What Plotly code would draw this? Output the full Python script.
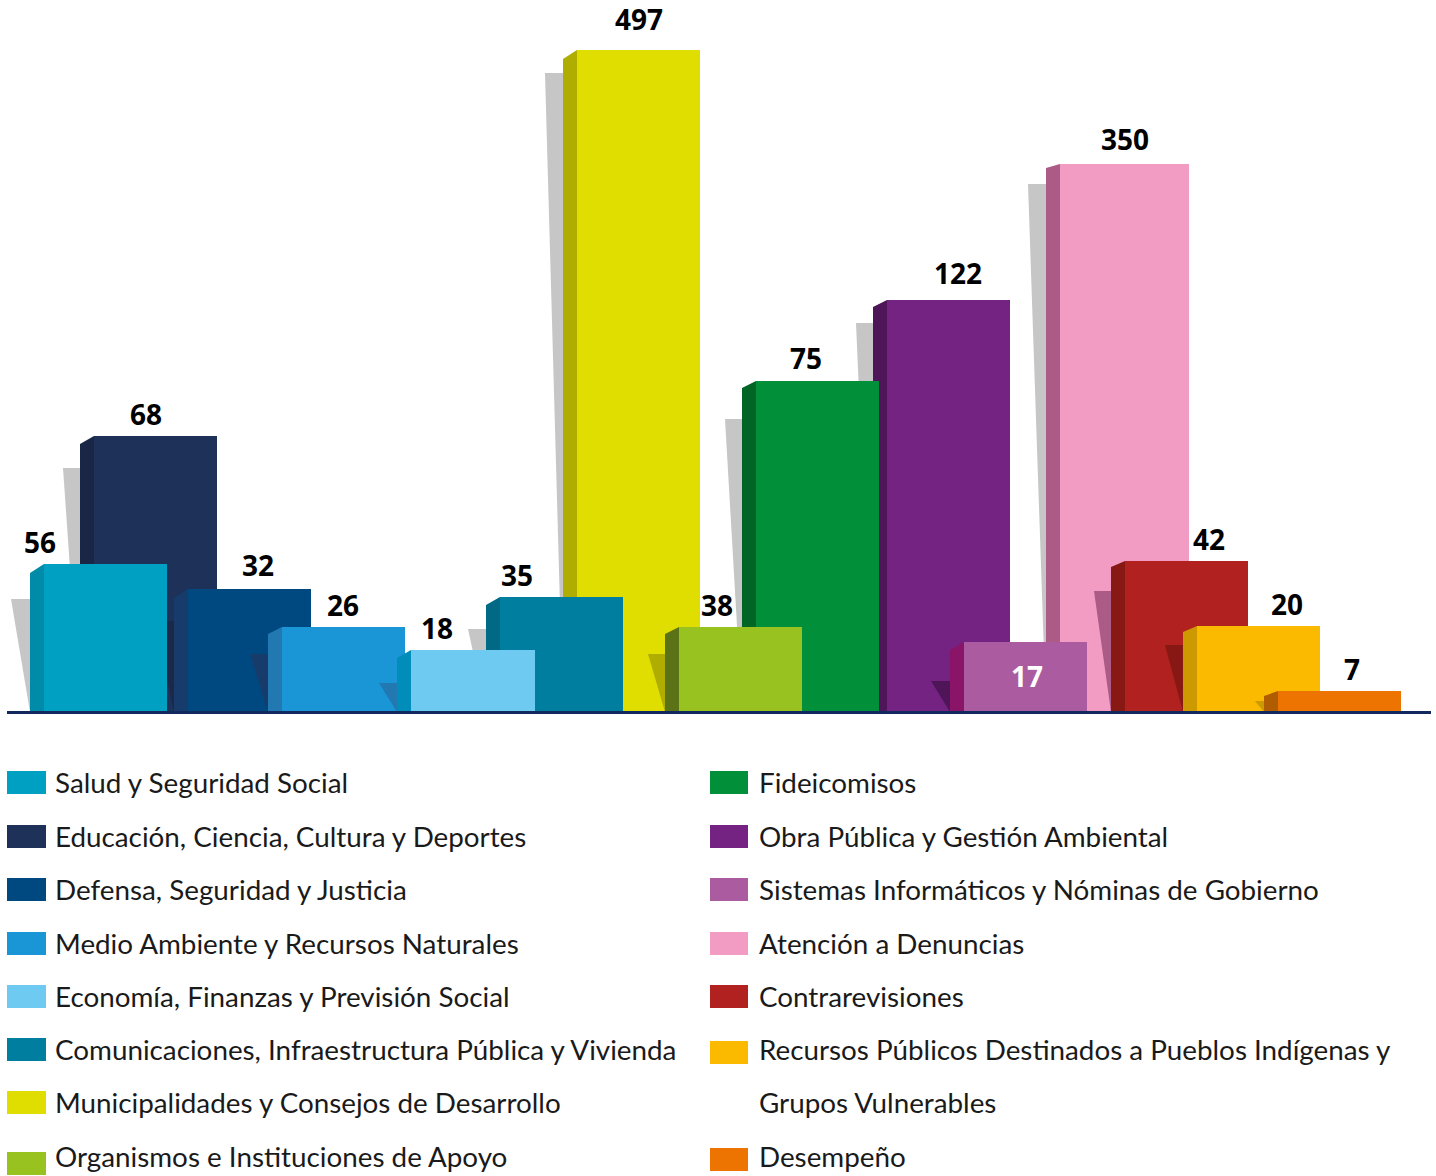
import plotly.graph_objects as go

categories = ["Salud y Seguridad Social", "Educación, Ciencia, Cultura y Deportes", "Defensa, Seguridad y Justicia",
              "Medio Ambiente y Recursos Naturales", "Economía, Finanzas y Previsión Social",
              "Comunicaciones, Infraestructura Pública y Vivienda", "Municipalidades y Consejos de Desarrollo",
              "Organismos e Instituciones de Apoyo", "Fideicomisos", "Obra Pública y Gestión Ambiental",
              "Sistemas Informáticos y Nóminas de Gobierno", "Atención a Denuncias", "Contrarevisiones",
              "Recursos Públicos Destinados a Pueblos Indígenas y Grupos Vulnerables", "Desempeño"]
values = [56, 68, 32, 26, 18, 35, 497, 38, 75, 122, 17, 350, 42, 20, 7]
# The source chart's bars are not drawn to a linear scale: these are the drawn heights read from it.
drawn_heights = [148, 276, 123, 85, 62, 115, 662, 85, 331, 412, 70, 548, 151, 86, 21]

front_left = [44, 94, 188, 282, 411, 500, 577, 679, 756, 887, 964, 1060, 1125, 1197, 1278]
front_right = [167, 217, 311, 405, 535, 623, 700, 802, 879, 1010, 1087, 1189, 1248, 1320, 1401]
side_depth = 14
side_h = [139, 268, 114, 78, 54, 107, 653, 78, 324, 405, 62, 544, 145, 80, 16]
shadow_h = [113, 244, 91, 58, 29, 83, 639, 58, 293, 389, 31, 528, 121, 67, 11]
shadow_left = [11, 63, 155, 250, 379, 468, 545, 648, 725, 856, 931, 1028, 1094, 1165, 1255]
stack_order = [3, 1, 2, 3, 4, 2, 1, 3, 2, 1, 3, 1, 2, 3, 4]
front_colors = ["#00A0C3", "#1D3159", "#004880", "#1A95D5", "#6FCAF1", "#007EA0", "#E0DE00", "#97C21F",
                "#028F39", "#742382", "#AB5B9F", "#F39CC3", "#B12120", "#FBBA00", "#EE7402"]
side_colors = ["#008CA8", "#1A2645", "#173C6C", "#2279B2", "#008DB9", "#006985", "#AEAD00", "#5B7216",
               "#006525", "#4F1559", "#8A1467", "#AB5B85", "#881813", "#CC9900", "#B05C00"]
shadow_colors = ["#C6C6C6", "#C6C6C6", "#1C2848", "#173C6C", "#2279B2", "#C6C6C6", "#C6C6C6", "#AEAD00",
                 "#C6C6C6", "#C6C6C6", "#4F1559", "#C6C6C6", "#AB5B85", "#881813", "#CC9900"]
label_x = [40, 146, 258, 343, 437, 517, 639, 717, 806, 958, 1027, 1125, 1209, 1287, 1352]
label_py = [542, 414, 565, 605, 628, 575, 19, 605, 358, 273, 676, 139, 539, 604, 669]

legend_rows_left = [782, 836, 889, 943, 996, 1049, 1102, 1156]
legend_rows_right = [782, 836, 889, 943, 996, 1049, 1156]
legend_wrap_row = 1102

W, H, BASE = 1436, 1176, 712
LEGEND_FONT = dict(family="Lato, Open Sans, sans-serif", size=27.8, color="#1a1a1a")
LABEL_FONT = "Open Sans, sans-serif"

fig = go.Figure()
for i, cat in enumerate(categories):
    z = stack_order[i] * 10
    side_l = front_left[i] - side_depth
    fig.add_trace(go.Scatter(x=[shadow_left[i], side_l, side_l], y=[shadow_h[i], shadow_h[i], 0],
                             mode="lines", fill="toself", line=dict(width=0),
                             fillcolor=shadow_colors[i], hoverinfo="skip", zorder=z, showlegend=False))
    fig.add_trace(go.Scatter(x=[side_l, front_left[i], front_left[i], side_l],
                             y=[0, 0, drawn_heights[i], side_h[i]],
                             mode="lines", fill="toself", line=dict(width=0),
                             fillcolor=side_colors[i], hoverinfo="skip", zorder=z + 1, showlegend=False))
    fig.add_trace(go.Bar(x=[(front_left[i] + front_right[i]) / 2], y=[drawn_heights[i]],
                         width=front_right[i] - front_left[i], marker=dict(color=front_colors[i], line_width=0),
                         name=cat, customdata=[values[i]], hovertemplate="%{fullData.name}: %{customdata}<extra></extra>",
                         zorder=z + 2, showlegend=False))


def annotate(text, px, py, font, anchor="left"):
    fig.add_annotation(text=text, x=px / W, y=1 - py / H, xref="paper", yref="paper", xanchor=anchor,
                       yanchor="middle", showarrow=False, font=font, align=anchor, borderpad=0, borderwidth=0)


for i, v in enumerate(values):
    annotate(f"<b>{v}</b>", label_x[i], label_py[i],
             dict(family=LABEL_FONT, size=28, color="white" if v == 17 else "#000000"), "center")

shapes = [dict(type="line", xref="x", yref="paper", x0=7, x1=1431, y0=1 - 712.5 / H, y1=1 - 712.5 / H,
               line=dict(color="#12295F", width=3), layer="above")]


def swatch(idx, sx0, sx1, py0, py1):
    shapes.append(dict(type="rect", xref="paper", yref="paper", x0=sx0 / W, x1=sx1 / W,
                       y0=1 - py1 / H, y1=1 - py0 / H, fillcolor=front_colors[idx], line_width=0))


for k in range(8):
    py = legend_rows_left[k]
    swatch(k, 7, 46, py - 11 + (7 if k == 7 else 0), py + 12 + (7 if k == 7 else 0))
    annotate(categories[k], 54.5, py, LEGEND_FONT)

for k, idx in enumerate(range(8, 15)):
    py = legend_rows_right[k]
    swatch(idx, 710, 748, py - 11 + (3 if idx >= 13 else 0), py + 12 + (3 if idx >= 13 else 0))
    if idx == 13:
        annotate("Recursos Públicos Destinados a Pueblos Indígenas y", 758.5, py, LEGEND_FONT)
        annotate("Grupos Vulnerables", 758.5, legend_wrap_row, LEGEND_FONT)
    else:
        annotate(categories[idx], 758.5, py, LEGEND_FONT)

fig.update_layout(
    width=W, height=H, margin=dict(l=0, r=0, t=0, b=0), paper_bgcolor="white", plot_bgcolor="white",
    barmode="overlay", bargap=0, showlegend=False, shapes=shapes,
    xaxis=dict(range=[0, W], visible=False, fixedrange=True),
    yaxis=dict(range=[0, BASE], domain=[1 - BASE / H, 1], visible=False, fixedrange=True),
)
fig.write_html("out.html", config={"displayModeBar": False},
               post_script="document.body.style.margin='0';")
